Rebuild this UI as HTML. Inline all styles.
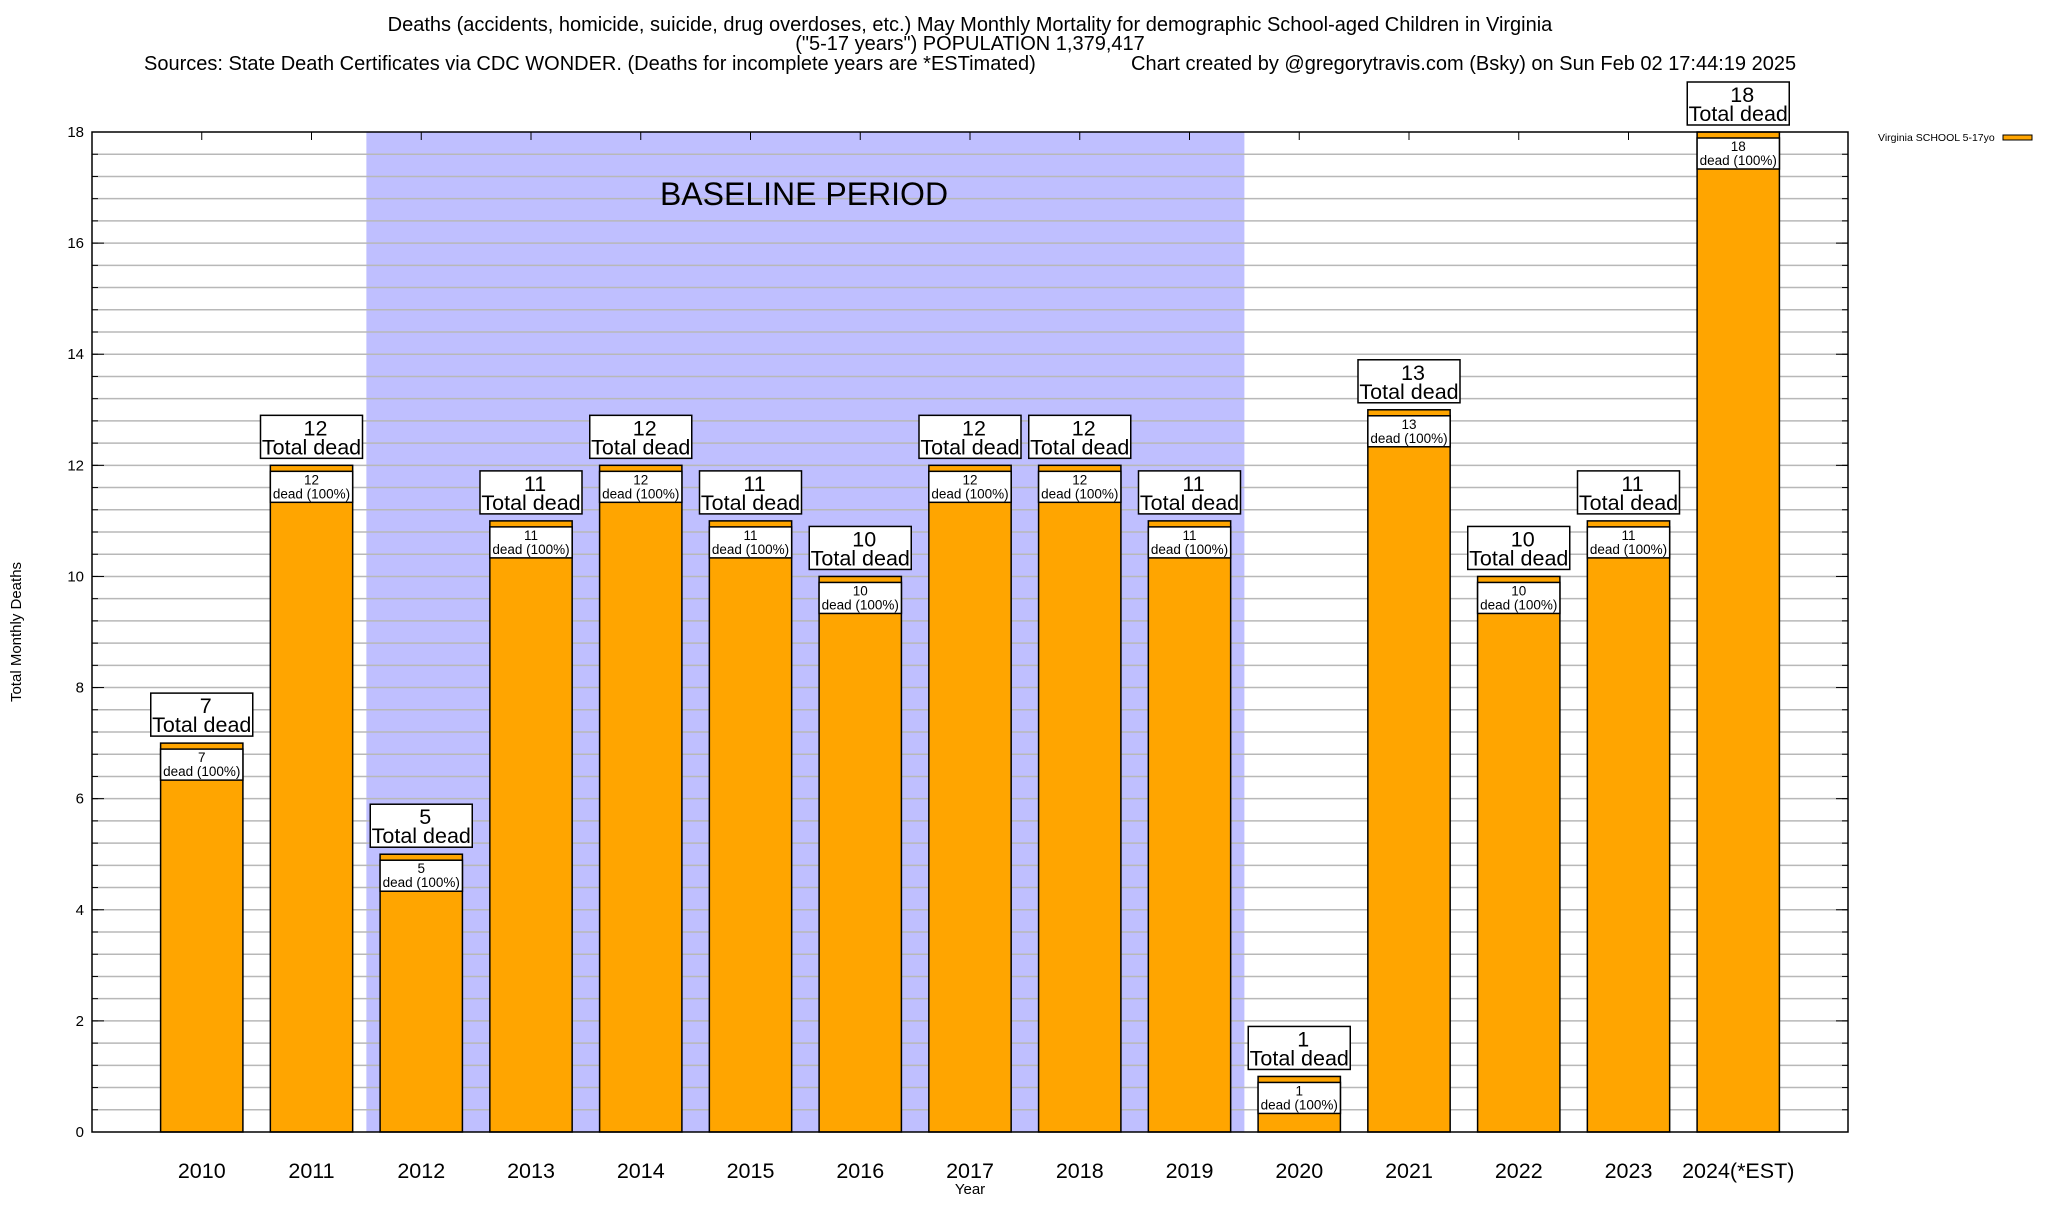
<!DOCTYPE html>
<html><head><meta charset="utf-8"><style>
body{margin:0;background:#fff;}
svg text{font-family:"Liberation Sans",Arial,sans-serif;fill:#000;}
</style></head><body>
<svg id="chart" width="2048" height="1200" xmlns="http://www.w3.org/2000/svg">
<g font-size="20">
<text x="970" y="31" text-anchor="middle">Deaths (accidents, homicide, suicide, drug overdoses, etc.) May Monthly Mortality for demographic School-aged Children in Virginia</text>
<text x="970" y="50" text-anchor="middle">("5-17 years") POPULATION 1,379,417</text>
<text x="144" y="70">Sources: State Death Certificates via CDC WONDER. (Deaths for incomplete years are *ESTimated)</text>
<text x="1131" y="70">Chart created by @gregorytravis.com (Bsky) on Sun Feb 02 17:44:19 2025</text>
</g>
<g id="plot"></g>
<text transform="translate(21,632) rotate(-90)" text-anchor="middle" font-size="15">Total Monthly Deaths</text>
<text x="970" y="1194" text-anchor="middle" font-size="15">Year</text>
<g>
<text x="1878" y="141" font-size="10.5">Virginia SCHOOL 5-17yo</text>
<rect x="2003" y="135" width="29" height="5" fill="#ffa500" stroke="#000" stroke-width="1"/>
</g>
</svg>
<script>
const categories=["2010","2011","2012","2013","2014","2015","2016","2017","2018","2019","2020","2021","2022","2023","2024(*EST)"];
const deaths=[7,12,5,11,12,11,10,12,12,11,1,13,10,11,18];
const yTicks=[0,2,4,6,8,10,12,14,16,18];
const baseline=[2011.5,2019.5];

const L=92,R=1848,T=132,B=1132,xMin=2009,xMax=2025,yMax=18;
const NS="http://www.w3.org/2000/svg";
const g=document.getElementById('plot');
const X=v=>L+(v-xMin)/(xMax-xMin)*(R-L);
const Y=v=>B-v/yMax*(B-T);
function el(t,a,p){const e=document.createElementNS(NS,t);for(const k in a)e.setAttribute(k,a[k]);(p||g).appendChild(e);return e;}

const bl=el('rect',{x:X(baseline[0]),y:T,width:X(baseline[1])-X(baseline[0]),height:B-T,fill:'#bfbfff'});


for(let v=0;v<=yMax+1e-6;v+=0.4){
  const y=Y(v);
  if(v>0.01&&v<yMax-0.01){const gl=el('line',{x1:L,x2:R,y1:y,y2:y,stroke:'#b8b8b8','stroke-width':1.5});
  
  }
  el('line',{x1:L,x2:L+6,y1:y,y2:y,stroke:'#000'});
  el('line',{x1:R-6,x2:R,y1:y,y2:y,stroke:'#000'});
}
yTicks.forEach(v=>{
  const y=Y(v);
  el('line',{x1:L,x2:L+12,y1:y,y2:y,stroke:'#000'});
  el('line',{x1:R-12,x2:R,y1:y,y2:y,stroke:'#000'});
  const t=el('text',{x:L-8,y:y+5,'text-anchor':'end','font-size':15});t.textContent=v;
  
  
});
const bt=el('text',{x:804,y:205,'text-anchor':'middle','font-size':32});bt.textContent='BASELINE PERIOD';



const bw=(X(1)-X(0))*0.75;
categories.forEach((c,i)=>{
  const cx=X(2010+i),v=deaths[i],y=Y(v),x0=cx-bw/2;
  el('line',{x1:cx,x2:cx,y1:T,y2:T+8,stroke:'#000'});
  const bar=el('rect',{x:x0,y:y,width:bw,height:B-y,fill:'#ffa500',stroke:'#000','stroke-width':1.5});
  
  
  el('rect',{x:x0,y:y+6,width:bw,height:31,fill:'#fff',stroke:'#000','stroke-width':1.5});
  const t1=el('text',{x:cx,y:y+19,'text-anchor':'middle','font-size':13.5});t1.textContent=v;
  const t2=el('text',{x:cx,y:y+33,'text-anchor':'middle','font-size':13.5});t2.textContent='dead (100%)';
  const bx=el('rect',{x:cx-51,y:y-50,width:102,height:43,fill:'#fff',stroke:'#000','stroke-width':1.5});
  
  
  const t3=el('text',{x:cx+4,y:y-30,'text-anchor':'middle','font-size':21.5});t3.textContent=v;
  const t4=el('text',{x:cx,y:y-11,'text-anchor':'middle','font-size':21.5});t4.textContent='Total dead';
  const xl=el('text',{x:cx,y:1178,'text-anchor':'middle','font-size':21.5});xl.textContent=c;
  
  
});
const fr=el('rect',{x:L,y:T,width:R-L,height:B-T,fill:'none',stroke:'#000','stroke-width':1.5});


</script>
</body></html>
